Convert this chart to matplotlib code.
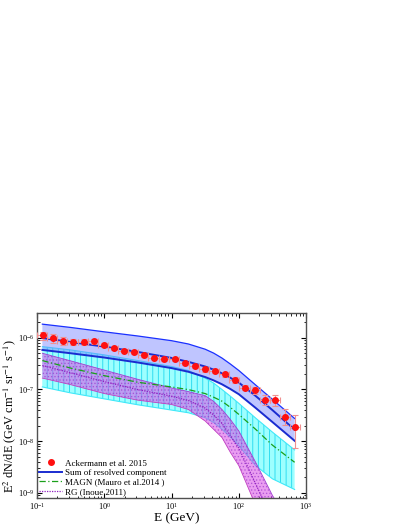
import matplotlib
matplotlib.use("Agg")
import matplotlib.pyplot as plt
from matplotlib.ticker import NullFormatter
import numpy as np

plt.rcParams['font.family'] = ['Liberation Serif', 'DejaVu Serif']
plt.rcParams['mathtext.fontset'] = 'stix'
plt.rcParams['hatch.linewidth'] = 0.6

# ---- Ackermann et al. 2015 data ----
E_data = [0.121, 0.175, 0.241, 0.339, 0.493, 0.703, 0.99, 1.38, 1.96, 2.76, 3.93, 5.53, 7.78,
          11.1, 15.8, 22.5, 31.3, 44.5, 62.7, 87.3, 123, 173, 243, 347, 488, 687]
F_data = [1.11e-6, 9.7e-7, 8.8e-7, 8.3e-7, 8.3e-7, 8.6e-7, 7.3e-7, 6.4e-7, 5.65e-7, 5.25e-7,
          4.6e-7, 4.14e-7, 3.86e-7, 3.86e-7, 3.18e-7, 2.87e-7, 2.44e-7, 2.3e-7, 1.96e-7,
          1.55e-7, 1.09e-7, 9.7e-8, 6.4e-8, 6.4e-8, 2.98e-8, 1.91e-8]
F_err_lo = [1.9e-7, 1.9e-7, 1.7e-7, 1.2e-7, 1.0e-7, 1.0e-7, 7e-8, 6e-8, 4.5e-8, 4.2e-8,
            3.7e-8, 3.3e-8, 3.1e-8, 3.1e-8, 2.6e-8, 2.3e-8, 2.4e-8, 2.3e-8, 2.0e-8,
            1.9e-8, 1.3e-8, 1.5e-8, 1.3e-8, 1.6e-8, 9e-9, 1.17e-8]
F_err_hi = [1.9e-7, 1.9e-7, 1.7e-7, 1.2e-7, 1.0e-7, 1.0e-7, 7e-8, 6e-8, 4.5e-8, 4.2e-8,
            3.7e-8, 3.3e-8, 3.1e-8, 3.1e-8, 2.6e-8, 2.3e-8, 2.4e-8, 2.3e-8, 2.0e-8,
            1.9e-8, 1.3e-8, 1.5e-8, 1.3e-8, 1.6e-8, 1.2e-8, 1.3e-8]
bin_edges = [0.1, 0.141, 0.2, 0.283, 0.4, 0.566, 0.8, 1.13, 1.6, 2.26, 3.2, 4.53, 6.4, 9.05,
             12.8, 18.1, 25.6, 36.2, 51.2, 72.4, 102, 145, 205, 290, 410, 580, 820]

# ---- model curves ----
E_model = [0.12, 0.316, 1.0, 3.16, 10.0, 17.8, 31.6, 42.2, 56.2, 75.0, 100, 178, 316, 676]
sum_hi = [1.83e-6, 1.58e-6, 1.30e-6, 1.08e-6, 8.77e-7, 7.57e-7, 6.0e-7, 5.05e-7, 4.05e-7,
          3.1e-7, 2.33e-7, 1.22e-7, 6.46e-8, 2.75e-8]
sum_mid = [9.86e-7, 8.26e-7, 6.73e-7, 5.31e-7, 4.07e-7, 3.42e-7, 2.78e-7, 2.42e-7, 2.05e-7,
           1.68e-7, 1.36e-7, 7.5e-8, 4.0e-8, 1.67e-8]
sum_lo = [5.81e-7, 5.01e-7, 4.14e-7, 3.32e-7, 2.59e-7, 2.20e-7, 1.74e-7, 1.50e-7, 1.26e-7,
          1.02e-7, 8.1e-8, 4.4e-8, 2.35e-8, 1.02e-8]
magn_hi = [6.73e-7, 5.81e-7, 4.66e-7, 3.62e-7, 2.78e-7, 2.33e-7, 1.66e-7, 1.33e-7, 1.0e-7,
           7.4e-8, 5.4e-8, 2.8e-8, 1.5e-8, 6.8e-9]
magn_mid = [3.62e-7, 2.59e-7, 1.85e-7, 1.38e-7, 1.12e-7, 9.94e-8, 8.34e-8, 7.1e-8, 5.94e-8,
            4.5e-8, 3.30e-8, 1.70e-8, 8.41e-9, 3.92e-9]
magn_lo = [1.12e-7, 8.59e-8, 6.59e-8, 5.06e-8, 4.00e-8, 3.55e-8, 2.85e-8, 2.3e-8, 1.70e-8,
           1.2e-8, 8.17e-9, 3.38e-9, 1.88e-9, 1.17e-9]
rg_hi = [5.01e-7, 3.57e-7, 2.37e-7, 1.57e-7, 1.07e-7, 9.1e-8, 7.6e-8, 5.9e-8, 4.11e-8,
         2.63e-8, 1.58e-8, 3.92e-9, 9.0e-10, 1.8e-10]
rg_mid = [2.91e-7, 2.10e-7, 1.42e-7, 9.95e-8, 7.42e-8, 6.12e-8, 4.37e-8, 3.21e-8, 2.22e-8,
          1.27e-8, 7.36e-9, 1.51e-9, 2.99e-10, 4.8e-11]
rg_lo = [1.66e-7, 1.24e-7, 8.34e-8, 6.21e-8, 5.13e-8, 4.11e-8, 2.46e-8, 1.70e-8, 1.18e-8,
         6.08e-9, 3.38e-9, 5.78e-10, 1.0e-10, 1.3e-11]

fig = plt.figure(figsize=(4.07, 5.27), dpi=100)
ax = fig.add_axes([0.091, 0.055, 0.661, 0.351])

# MAGN band (cyan, vertical hatching)
ax.fill_between(E_model, magn_lo, magn_hi, facecolor=(0.55, 1.0, 1.0, 0.85),
                edgecolor='#20d8ee', hatch='|||', linewidth=0, zorder=1)
ax.plot(E_model, magn_hi, color='#40e8f8', lw=0.8, zorder=1.5)
ax.plot(E_model, magn_lo, color='#40e8f8', lw=0.8, zorder=1.5)

# RG band (purple, dotted hatching)
ax.fill_between(E_model, rg_lo, rg_hi, facecolor=(0.85, 0.3, 0.9, 0.55),
                edgecolor=(0.6, 0.2, 0.8, 0.6), hatch='.....', linewidth=0, zorder=2)
ax.plot(E_model, rg_hi, color='#a040d0', lw=0.6, zorder=2.5)
ax.plot(E_model, rg_lo, color='#c040c0', lw=0.6, zorder=2.5)

# Sum of resolved band (blue)
ax.fill_between(E_model, sum_lo, sum_hi, facecolor=(0.45, 0.5, 1.0, 0.45), linewidth=0, zorder=3)
ax.plot(E_model, sum_hi, color='#1a30ff', lw=0.9, zorder=4)
ax.plot(E_model, sum_lo, color='#1a2cd0', lw=1.4, zorder=4)

# central lines
ax.plot(E_model, magn_mid, color='#1aa01a', lw=0.9, ls=(0, (5, 2, 1, 2)), zorder=5,
        label='MAGN (Mauro et al.2014 )')
ax.plot(E_model, rg_mid, color='#9020c0', lw=0.9, ls=(0, (1, 1)), zorder=5,
        label='RG (Inoue 2011)')
ax.plot(E_model, sum_mid, color='#1a2cd0', lw=1.4, zorder=5, label='Sum of resolved component')

# data
E_arr = np.array(E_data)
edges = np.array(bin_edges)
xerr = [E_arr - edges[:-1], edges[1:] - E_arr]
ax.errorbar(E_data, F_data, yerr=[F_err_lo, F_err_hi], xerr=xerr, fmt='none',
            ecolor='#f09090', elinewidth=0.8, capsize=2, capthick=0.8, zorder=6)
ax.plot(E_data, F_data, 'o', color='#ff1010', ms=4, zorder=7, label='Ackermann et al. 2015')

ax.set_xscale('log')
ax.set_yscale('log')
ax.set_xlim(0.1, 1000)
ax.set_ylim(8e-10, 3e-6)
ax.xaxis.set_minor_formatter(NullFormatter())
ax.yaxis.set_minor_formatter(NullFormatter())
ax.xaxis.offsetText.set_visible(False)
ax.yaxis.offsetText.set_visible(False)

ax.tick_params(which='both', direction='in', top=True, right=True, labelsize=6, pad=2)
ax.tick_params(which='major', length=3.5)
ax.tick_params(which='minor', length=1.8)
for s in ax.spines.values():
    s.set_color('#505050')
    s.set_linewidth(1.0)

ax.set_xlabel('E (GeV)', fontsize=9.5)
ax.xaxis.set_label_coords(0.52, -0.112)
ax.xaxis.label.set_va('center')
ax.set_ylabel(r'E$^2$ dN/dE (GeV cm$^{-1}$ sr$^{-1}$ s$^{-1}$)', fontsize=8.8)
ax.yaxis.set_label_coords(-0.102, 0.44)
ax.yaxis.label.set_va('center')

h, l = ax.get_legend_handles_labels()
order = [3, 2, 0, 1]
ax.legend([h[i] for i in order], [l[i] for i in order], loc='lower left', frameon=False,
          fontsize=6.5, handlelength=2.5, labelspacing=0.12, borderaxespad=0.05,
          borderpad=0.2, handletextpad=0.4)

fig.savefig('out.png', dpi=100)
